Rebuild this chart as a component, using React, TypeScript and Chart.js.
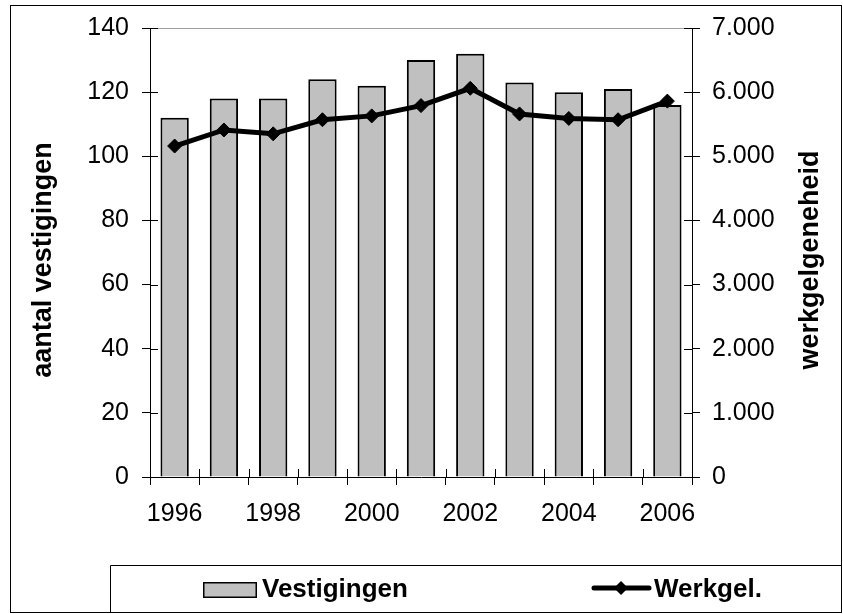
import React, { useEffect, useRef } from 'react';
import { Chart, registerables } from 'chart.js';

Chart.register(...registerables);

// ---- data ----
const years = ['1996', '1997', '1998', '1999', '2000', '2001', '2002', '2003', '2004', '2005', '2006'];
const vestigingen = [112, 118, 118, 124, 122, 130, 132, 123, 120, 121, 116];
const werkgelegenheid = [5160, 5410, 5350, 5570, 5630, 5790, 6060, 5660, 5590, 5570, 5860];
const leftAxisMax = 140;
const leftAxisStep = 20;
const rightAxisMax = 7000;
const rightAxisStep = 1000;
const leftTitle = 'aantal vestigingen';
const rightTitle = 'werkgelgeneheid';
const barLabel = 'Vestigingen';
const lineLabel = 'Werkgel.';

const FONT = '"Liberation Sans", Arial, Helvetica, sans-serif';

function formatNL(v: number): string {
  const s = String(Math.round(v));
  return s.replace(/\B(?=(\d{3})+(?!\d))/g, '.');
}

const decorPlugin = {
  id: 'decor',
  afterDraw(chart: any) {
    const { ctx, chartArea: ca, scales } = chart;
    const xs = scales.x;
    const ys = scales.y;
    const y1 = scales.y1;
    const r = (v: number) => Math.round(v) + 0.5;
    ctx.save();

    // top border of plot area (gray)
    ctx.strokeStyle = '#a0a0a0';
    ctx.lineWidth = 1;
    ctx.beginPath();
    ctx.moveTo(ca.left, r(ca.top));
    ctx.lineTo(ca.right, r(ca.top));
    ctx.stroke();

    // inward tick marks
    ctx.strokeStyle = '#000';
    ctx.beginPath();
    for (let i = 0; i <= years.length; i++) {
      const px = r(xs.getPixelForValue(i - 0.5));
      ctx.moveTo(px, ca.bottom);
      ctx.lineTo(px, ca.bottom - 8);
    }
    ys.ticks.forEach((_t: any, i: number) => {
      const py = r(ys.getPixelForTick(i));
      ctx.moveTo(ca.left, py);
      ctx.lineTo(ca.left + 8, py);
    });
    y1.ticks.forEach((_t: any, i: number) => {
      const py = r(y1.getPixelForTick(i));
      ctx.moveTo(ca.right, py);
      ctx.lineTo(ca.right - 8, py);
    });
    ctx.stroke();

    // axis titles
    ctx.fillStyle = '#000';
    ctx.font = `bold 27px ${FONT}`;
    ctx.textAlign = 'center';
    ctx.textBaseline = 'middle';
    const midY = 260;
    ctx.save();
    ctx.translate(44, midY);
    ctx.rotate(-Math.PI / 2);
    ctx.fillText(leftTitle, 0, 0);
    ctx.restore();
    ctx.save();
    ctx.translate(811, midY);
    ctx.rotate(-Math.PI / 2);
    ctx.fillText(rightTitle, 0, 0);
    ctx.restore();

    // outer frame
    ctx.strokeStyle = '#000';
    ctx.lineWidth = 1;
    ctx.strokeRect(10.5, 5.5, 831, 607);

    // legend box
    ctx.beginPath();
    ctx.moveTo(110.5, 612.5);
    ctx.lineTo(110.5, 565.5);
    ctx.lineTo(841.5, 565.5);
    ctx.stroke();

    const barDs = chart.data.datasets[1];
    const lineDs = chart.data.datasets[0];
    // bar swatch
    ctx.fillStyle = barDs.backgroundColor;
    ctx.fillRect(203, 582, 54, 16);
    ctx.strokeStyle = barDs.borderColor;
    ctx.lineWidth = 1.5;
    ctx.strokeRect(203.75, 582.75, 52.5, 14.5);
    ctx.fillStyle = '#000';
    ctx.font = `bold 26px ${FONT}`;
    ctx.textAlign = 'left';
    ctx.textBaseline = 'alphabetic';
    ctx.fillText(barLabel, 262, 597);

    // line swatch
    ctx.strokeStyle = lineDs.borderColor;
    ctx.lineWidth = lineDs.borderWidth;
    ctx.lineCap = 'round';
    ctx.beginPath();
    ctx.moveTo(594, 588);
    ctx.lineTo(649, 588);
    ctx.stroke();
    ctx.fillStyle = lineDs.pointBackgroundColor;
    ctx.beginPath();
    const d = 7;
    ctx.moveTo(621, 588 - d);
    ctx.lineTo(621 + d, 588);
    ctx.lineTo(621, 588 + d);
    ctx.lineTo(621 - d, 588);
    ctx.closePath();
    ctx.fill();
    ctx.fillStyle = '#000';
    ctx.fillText(lineLabel, 654, 597);

    ctx.restore();
  },
};

export default function App() {
  const ref = useRef<HTMLCanvasElement | null>(null);

  useEffect(() => {
    if (!ref.current) return;
    const chart = new Chart(ref.current, {
      type: 'bar',
      data: {
        labels: years,
        datasets: [
          {
            type: 'line',
            label: lineLabel,
            data: werkgelegenheid,
            yAxisID: 'y1',
            borderColor: '#000',
            borderWidth: 5,
            pointStyle: 'rectRot',
            pointRadius: 7,
            pointBackgroundColor: '#000',
            pointBorderColor: '#000',
            pointBorderWidth: 1,
            tension: 0,
            order: 0,
          } as any,
          {
            type: 'bar',
            label: barLabel,
            data: vestigingen,
            yAxisID: 'y',
            backgroundColor: '#c0c0c0',
            borderColor: '#000',
            borderWidth: 2,
            barPercentage: 0.575,
            categoryPercentage: 1,
            order: 1,
          } as any,
        ],
      },
      options: {
        responsive: false,
        animation: false,
        devicePixelRatio: 1,
        layout: { padding: { top: 27, left: 0, right: 0, bottom: 0 } },
        plugins: {
          legend: { display: false },
          tooltip: { enabled: false },
        },
        scales: {
          x: {
            type: 'category',
            offset: true,
            grid: {
              display: true,
              offset: true,
              drawOnChartArea: false,
              drawTicks: true,
              tickLength: 8,
              color: '#000',
            },
            border: { display: true, color: '#000', width: 1 },
            ticks: {
              autoSkip: false,
              maxRotation: 0,
              minRotation: 0,
              padding: 14,
              color: '#000',
              font: { family: FONT, size: 25 },
              callback: (_v: any, i: number) => (i % 2 === 0 ? years[i] : ''),
            },
            afterFit: (s: any) => {
              s.height = 137;
            },
          },
          y: {
            type: 'linear',
            position: 'left',
            min: 0,
            max: leftAxisMax,
            grid: {
              display: true,
              drawOnChartArea: false,
              drawTicks: true,
              tickLength: 8,
              color: '#000',
            },
            border: { display: true, color: '#000', width: 1 },
            ticks: {
              stepSize: leftAxisStep,
              padding: 13,
              color: '#000',
              font: { family: FONT, size: 25 },
            },
            afterFit: (s: any) => {
              s.width = 150;
            },
          },
          y1: {
            type: 'linear',
            position: 'right',
            min: 0,
            max: rightAxisMax,
            grid: {
              display: true,
              drawOnChartArea: false,
              drawTicks: true,
              tickLength: 8,
              color: '#000',
            },
            border: { display: true, color: '#000', width: 1 },
            ticks: {
              stepSize: rightAxisStep,
              padding: 12,
              color: '#000',
              font: { family: FONT, size: 25 },
              callback: (v: any) => formatNL(Number(v)),
            },
            afterFit: (s: any) => {
              s.width = 151;
            },
          },
        },
      } as any,
      plugins: [decorPlugin],
    });
    return () => chart.destroy();
  }, []);

  return (
    <div style={{ position: 'absolute', left: 0, top: 0, width: 843, height: 614, background: '#fff' }}>
      <canvas ref={ref} width={843} height={614} style={{ display: 'block', width: 843, height: 614 }} />
    </div>
  );
}
